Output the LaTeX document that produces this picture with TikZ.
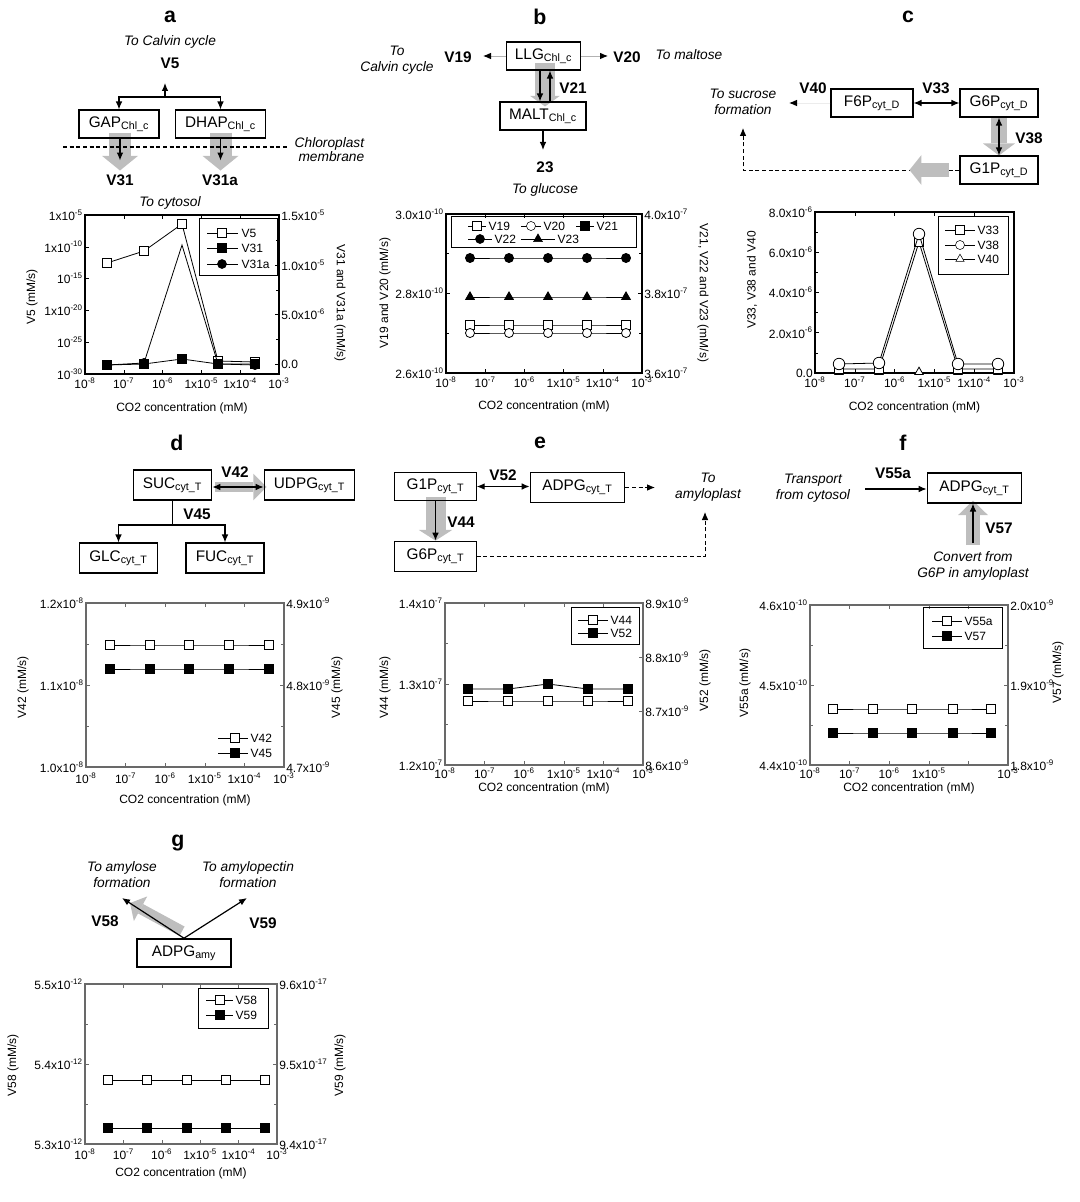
\documentclass[tikz,border=0pt]{standalone}
\usepackage{fontspec}
\setmainfont{Liberation Sans}
\usepackage{tikz}
\usetikzlibrary{arrows.meta, calc, plotmarks, backgrounds}
\definecolor{arrowGrey}{RGB}{190, 190, 190}
\definecolor{axisGrey}{RGB}{105, 105, 105}
\newcommand{\tenp}[1]{10\textsuperscript{#1}}
\newcommand{\xten}[2]{#1x10\textsuperscript{#2}}
\newcommand{\lCOtwo}{CO2 concentration (mM)}
\newcommand{\lChl}{\textsubscript{Chl\_c}}
\newcommand{\lCytD}{\textsubscript{cyt\_D}}
\newcommand{\lCytT}{\textsubscript{cyt\_T}}

\begin{document}
\begin{tikzpicture} [
        x=0.75pt, y=-0.75pt,
        panel/.style={font=\fontsize{16}{18}\selectfont\bfseries},
        pool/.style={draw, line width=0.8pt, minimum height=21pt, inner sep=1pt, font=\fontsize{11.5}{13}\selectfont},
        flux/.style={font=\fontsize{11.5}{13}\selectfont\bfseries},
        note/.style={align=center, font=\fontsize{10.3}{12}\selectfont\itshape},
        tick label/.style={inner sep=1.5pt, font=\fontsize{9}{10}\selectfont},
        axis title/.style={font=\fontsize{9}{10}\selectfont},
        legend text/.style={anchor=west, inner sep=1pt, font=\fontsize{9}{10}\selectfont},
        flow/.style={line width=0.9pt, -{Latex[length=6pt, width=5pt]}},
        flow2/.style={line width=0.9pt, {Latex[length=6pt, width=5pt]}-{Latex[length=6pt, width=5pt]}},
        dashed flow/.style={flow, line width=0.7pt, dash pattern=on 3pt off 2pt},
        faint/.style={draw=gray!60, line width=0.7pt, -{Latex[length=6pt, width=5pt, black]}},
        big arrow/.style n args={3}{draw=arrowGrey, line width=#1, -{Triangle[length=#2, width=#3, line width=0pt]}},
        plot frame/.style={line width=0.8pt},
        series/.style={line width=0.6pt},
        opensq/.style={mark=square*, mark size=3.2pt, mark options={fill=white}},
        fullsq/.style={mark=square*, mark size=3.2pt, mark options={fill=black}},
        opendot/.style={mark=*, mark size=3.4pt, mark options={fill=white}},
        fulldot/.style={mark=*, mark size=3.4pt, mark options={fill=black}},
        opentri/.style={mark=triangle*, mark size=3.6pt, mark options={fill=white}},
        fulltri/.style={mark=triangle*, mark size=3.8pt, mark options={fill=black}}
    ]
    \useasboundingbox (0,0) rectangle (1080,1202);

    % a
    \node[panel] (title a) at (170,17) {a};
    \node[note] (calvin a) at (170,42) {To Calvin cycle};
    \node[flux] (v5) at (170,63) {V5};
    \node[pool, minimum width=60pt] (gap) at (119,124) {GAP\lChl};
    \node[pool, minimum width=67pt] (dhap) at (220.5,124) {DHAP\lChl};
    \coordinate (split a) at (165,97);
    \coordinate (v5 tip) at (165,83);
    \draw[flow] (split a) -- (v5 tip);
    \draw[flow] (split a) -| (gap.north);
    \draw[flow] (split a) -| (dhap.north);
    \draw[line width=0.8pt, dash pattern=on 3pt off 2pt] (63,147) -- (289,147);
    \node[note, anchor=west, align=right, font=\fontsize{10.3}{9}\selectfont\itshape] (membrane) at (290,150) {Chloroplast\\membrane};
    \draw[flow] ($(gap.south)+(1,0)$) -- ++(0,22);
    \draw[flow] (dhap.south) -- ++(0,22);
    \node[flux] (v31) at (120,180) {V31};
    \node[flux] (v31a) at (220,180) {V31a};
    \node[note] (cytosol) at (170,203) {To cytosol};

    % b
    \node[panel] (title b) at (540,17) {b};
    \node[pool, minimum width=56pt] (llg) at (543.5,56) {LLG\lChl};
    \node[pool, minimum width=64.5pt] (malt) at (543,116) {MALT\lChl};
    \node[flux] (v19) at (458,57) {V19};
    \node[flux] (v20) at (627,57) {V20};
    \node[note] (calvin b) at (397,60) {To\\Calvin cycle};
    \node[note] (maltose) at (689,55) {To maltose};
    \coordinate (v19 tip) at (483,56);
    \coordinate (v20 tip) at (608,56);
    \draw[faint] (llg.west) -- (v19 tip);
    \draw[faint] (llg.east) -- (v20 tip);
    \draw[flow] ($(llg.south)+(-3.5,0)$) -- ($(malt.north)+(-3,0)$);
    \draw[flow] ($(malt.north)+(7,0)$) -- ($(llg.south)+(6.5,0)$);
    \node[flux] (v21) at (573,88) {V21};
    \coordinate (glucose tip) at (543,150);
    \draw[flow] (malt.south) -- (glucose tip);
    \node[flux] (v23) at (545,167) {23};
    \node[note] (glucose) at (545,190) {To glucose};

    % c
    \node[panel] (title c) at (908,17) {c};
    \node[pool, minimum width=61.5pt] (f6p) at (872,103) {F6P\lCytD};
    \node[pool, minimum width=58.5pt] (g6p c) at (999,103) {G6P\lCytD};
    \node[pool, minimum width=58.5pt] (g1p c) at (999,170) {G1P\lCytD};
    \node[flux] (v33) at (936,88) {V33};
    \node[flux] (v40) at (813,88) {V40};
    \node[flux] (v38) at (1029,138) {V38};
    \node[note] (sucrose) at (743,102) {To sucrose\\formation};
    \coordinate (v40 tip) at (789,103);
    \coordinate (sucrose tip) at (743,128);
    \draw[flow2] (f6p) -- (g6p c);
    \draw[faint, draw=gray!15] (f6p.west) -- (v40 tip);
    \draw[flow2] (g6p c.south) -- (g1p c.north);
    \draw[dashed flow] (g1p c.west) -| (sucrose tip);
    \draw[big arrow={10.5pt}{9pt}{22.5pt}] ($(g1p c.west)+(-10,0)$) -- ($(g1p c.west)+(-50,0)$);

    % d
    \node[panel] (title d) at (177,443) {d};
    \node[pool, minimum width=59pt, minimum height=22.5pt] (suc) at (172.5,485) {SUC\lCytT};
    \node[pool, minimum width=68pt, minimum height=22.5pt] (udpg) at (309.5,485) {UDPG\lCytT};
    \node[pool, minimum width=59pt, minimum height=22.5pt] (glc) at (118.5,558) {GLC\lCytT};
    \node[pool, minimum width=58.5pt, minimum height=22.5pt] (fuc) at (225,558) {FUC\lCytT};
    \node[flux] (v42) at (235,472) {V42};
    \node[flux] (v45) at (197,514) {V45};
    \coordinate (split d) at (172.5,525);
    \draw[flow2] ($(suc.east)+(0,2)$) -- ($(udpg.west)+(0,2)$);
    \draw[line width=0.9pt] (suc.south) -- (split d);
    \draw[flow] (split d) -| (glc.north);
    \draw[flow] (split d) -| (fuc.north);

    % e
    \node[panel] (title e) at (540,443) {e};
    \node[pool, minimum width=61pt] (g1p e) at (435.5,486.5) {G1P\lCytT};
    \node[pool, minimum width=71pt, minimum height=23pt] (adpg e) at (577.5,487.5) {ADPG\lCytT};
    \node[pool, minimum width=61pt, minimum height=23pt] (g6p e) at (435.5,556.5) {G6P\lCytT};
    \node[flux] (v52) at (503,475) {V52};
    \node[flux] (v44) at (461,522) {V44};
    \node[note] (amyloplast) at (708,487) {To\\amyloplast};
    \coordinate (amy east) at (655,487.5);
    \coordinate (amy tip) at (705,512);
    \draw[flow2] (g1p e.east) -- (g1p e.east -| adpg e.west);
    \draw[dashed flow] (adpg e.east) -- (amy east);
    \draw[flow] (g1p e.south) -- (g6p e.north);
    \draw[dashed flow] (g6p e.east) -| (amy tip);

    % f
    \node[panel] (title f) at (903,443) {f};
    \node[pool, minimum width=71pt, minimum height=22.5pt] (adpg f) at (974.5,488) {ADPG\lCytT};
    \node[flux] (v55a) at (893,473) {V55a};
    \node[flux] (v57) at (999,528) {V57};
    \node[note] (transport) at (813,488) {Transport\\from cytosol};
    \node[note] (convert) at (973,566) {Convert from\\G6P in amyloplast};
    \coordinate (transport end) at (865,489);
    \coordinate (convert end) at (973,543);
    \draw[flow] (transport end) -- (transport end -| adpg f.west);
    \draw[flow] (convert end) -- (convert end |- adpg f.south);

    % g
    \node[panel] (title g) at (178,843) {g};
    \node[pool, minimum width=70.5pt, line width=1.2pt] (adpg g) at (184,953) {ADPG\textsubscript{amy}};
    \node[flux] (v58) at (105,921) {V58};
    \node[flux] (v59) at (263,923) {V59};
    \node[note] (amylose) at (122,875) {To amylose\\formation};
    \node[note] (amylopectin) at (248,875) {To amylopectin\\formation};
    \coordinate (amylose tip) at (122,898);
    \coordinate (amylopectin tip) at (247,898);
    \coordinate (amylose grey tip) at (130,903);
    \draw[flow] (adpg g.north) -- (amylose tip);
    \draw[flow] (adpg g.north) -- (amylopectin tip);

    % grey flux arrows
    \begin{scope}[on background layer]
        \draw[big arrow={16.5pt}{11pt}{27pt}] ($(gap.south)+(1,-6)$) -- ($(gap.south)+(1,32)$);
        \draw[big arrow={16.5pt}{11pt}{27pt}] ($(dhap.south)+(0,-6)$) -- ($(dhap.south)+(0,32)$);
        \draw[big arrow={15pt}{8pt}{22.5pt}] ($(llg.south)+(1.5,-8)$) -- ($(malt.north)+(2,5)$);
        \draw[big arrow={12.5pt}{9pt}{24pt}] ($(g6p c.south)+(0,-2)$) -- (g1p c.north);
        \draw[big arrow={8pt}{10pt}{20pt}] ($(suc.east)+(3,2)$) -- ($(udpg.west)+(3,2)$);
        \draw[big arrow={15pt}{8pt}{25pt}] ($(g1p e.south)+(0,-4)$) -- (g6p e.north);
        \draw[big arrow={11pt}{11pt}{22.5pt}] ($(convert end)+(0,2)$) -- ($(adpg f.south)+(-1.5,-3)$);
        \draw[big arrow={8pt}{9pt}{21pt}] ($(adpg g.north)+(-2,-7)$) -- (amylose grey tip);
    \end{scope}

    % plot frames and CO2 axes
    \foreach \n/\pl/\pt/\pr/\pb/\fc/\xo/\xt/\sk in {a/85/215/279/374/black/2/408/9, b/446/214/642/373/black/2/406/9, c/815/212/1014/373/black/2/407/9, d/86/603/284/767/axisGrey/4/800/9, e/445/603/643/765/axisGrey/1/788/9, f/810/605/1008/765/axisGrey/1/788/4, g/85/984/277/1144/axisGrey/3/1173/9} {
        \draw[plot frame, draw=\fc] (\pl,\pt) rectangle (\pr,\pb);
        \foreach \i/\t in {0/{\tenp{-8}}, 1/{\tenp{-7}}, 2/{\tenp{-6}}, 3/{\xten{1}{-5}}, 4/{\xten{1}{-4}}, 5/{\tenp{-3}}} {
            \draw[draw=\fc] ({\pl+\i*(\pr-\pl)/5},\pb) -- ++(0,-4);
            \draw[draw=\fc] ({\pl+\i*(\pr-\pl)/5},\pt) -- ++(0,4);
            \ifnum\i=\sk\relax\else
                \node[tick label, anchor=north] (xt-\n-\i) at ({\pl+\i*(\pr-\pl)/5},{\pb+\xo}) {\t};
            \fi
        }
        \node[axis title] (xtitle-\n) at ({(\pl+\pr)/2},\xt) {\lCOtwo};
    }

    % plot a
    \foreach \y/\t [count=\k] in {215/{\xten{1}{-5}}, 246.8/{\xten{1}{-10}}, 278.6/{\tenp{-15}}, 310.4/{\xten{1}{-20}}, 342.2/{\tenp{-25}}, 374/{\tenp{-30}}}
        {\draw (85,\y) -- ++(4,0); \node[tick label, anchor=east] (yl-a-\k) at (85,\y) {\t};}
    \foreach \y/\t [count=\k] in {364/0.0, 314.5/{\xten{5.0}{-6}}, 265/{\xten{1.0}{-5}}, 215.5/{\xten{1.5}{-5}}}
        {\draw (279,\y) -- ++(-4,0); \node[tick label, anchor=west] (yr-a-\k) at (279,\y) {\t};}
    \foreach \y in {339.25, 290, 240.5} \draw (279,\y) -- ++(-3,0);
    \node[axis title, rotate=90] (ytitle-a) at (32,297) {V5 (mM/s)};
    \node[axis title, rotate=-90] (ytitle2-a) at (340,303) {V31 and V31a (mM/s)};
    \draw[series, opensq] plot coordinates {(107,263) (144,251) (182,224) (218,361) (255,362)};
    \draw[series, fullsq] plot coordinates {(107,365) (144,364) (182,359) (218,364) (255,364)};
    \draw[series, fulldot, mark indices={1,2,4,5}] plot coordinates {(107,365) (144,363) (182,245) (218,364) (255,365)};
    \draw (199,218) rectangle (277,275);
    \foreach \y/\m/\t in {233/opensq/V5, 248/fullsq/V31, 264/fulldot/V31a} {
        \draw[series] (207,\y) -- (238,\y);
        \draw[\m] plot coordinates {(222,\y)};
        \node[legend text] (leg-\t) at (240,\y) {\t};
    }

    % plot b
    \foreach \y/\t [count=\k] in {214/{\xten{3.0}{-10}}, 293.5/{\xten{2.8}{-10}}, 373/{\xten{2.6}{-10}}}
        {\draw (446,\y) -- ++(4,0); \node[tick label, anchor=east] (yl-b-\k) at (446,\y) {\t};}
    \foreach \y/\t [count=\k] in {214/{\xten{4.0}{-7}}, 293.5/{\xten{3.8}{-7}}, 373/{\xten{3.6}{-7}}}
        {\draw (642,\y) -- ++(-4,0); \node[tick label, anchor=west] (yr-b-\k) at (642,\y) {\t};}
    \foreach \y in {253.75, 333.25} {\draw (446,\y) -- ++(3,0); \draw (642,\y) -- ++(-3,0);}
    \node[axis title, rotate=90] (ytitle-b) at (385,293) {V19 and V20 (mM/s)};
    \node[axis title, rotate=-90] (ytitle2-b) at (703,293) {V21, V22 and V23 (mM/s)};
    \draw[series, fulldot] plot coordinates {(470,258) (509,258) (548,258) (587,258) (626,258)};
    \draw[series, fulltri] plot coordinates {(470,297) (509,297) (548,297) (587,297) (626,297)};
    \draw[series, opensq] plot coordinates {(470,325) (509,325) (548,325) (587,325) (626,325)};
    \draw[series, opendot] plot coordinates {(470,333) (509,333) (548,333) (587,333) (626,333)};
    \draw (451,216) rectangle (636,247);
    \foreach \x/\y/\w/\m/\t in {477/226/9/opensq/V19, 531/226/10/opendot/V20, 585/226/9/fullsq/V21, 480/239/12/fulldot/V22, 538/239/17/fulltri/V23} {
        \draw[series] ({\x-\w},\y) -- ({\x+\w},\y);
        \draw[\m] plot coordinates {(\x,\y)};
        \node[legend text] (leg-\t) at ({\x+\w+1},\y) {\t};
    }

    % plot c
    \foreach \y/\t [count=\k] in {373/0.0, 332.75/{\xten{2.0}{-6}}, 292.5/{\xten{4.0}{-6}}, 252.25/{\xten{6.0}{-6}}, 212/{\xten{8.0}{-6}}}
        {\draw (815,\y) -- ++(4,0); \node[tick label, anchor=east] (yl-c-\k) at (815,\y) {\t};}
    \foreach \y in {352.9, 312.6, 272.4, 232.1} \draw (815,\y) -- ++(3,0);
    \node[axis title, rotate=90] (ytitle-c) at (752,280) {V33, V38 and V40};
    \draw[series, opentri] plot coordinates {(839,372) (879,372) (919,372) (958,372) (998,372)};
    \draw[series, opensq] plot coordinates {(839,369) (879,369) (919,242) (958,369) (998,369)};
    \draw[series, opendot, mark size=4.3pt] plot coordinates {(839,364) (879,363) (919,234) (958,364) (998,364)};
    \draw (938,216) rectangle (1008,274);
    \foreach \y/\m/\t in {230/opensq/V33, 245/opendot/V38, 259/opentri/V40} {
        \draw[series] (945,\y) -- (975,\y);
        \draw[\m] plot coordinates {(960,\y)};
        \node[legend text] (leg-\t) at (976,\y) {\t};
    }

    % plot d
    \foreach \y/\t [count=\k] in {603/{\xten{1.2}{-8}}, 685/{\xten{1.1}{-8}}, 767/{\xten{1.0}{-8}}}
        {\draw[axisGrey] (86,\y) -- ++(4,0); \node[tick label, anchor=east] (yl-d-\k) at (86,\y) {\t};}
    \foreach \y/\t [count=\k] in {603/{\xten{4.9}{-9}}, 685/{\xten{4.8}{-9}}, 767/{\xten{4.7}{-9}}}
        {\draw[axisGrey] (284,\y) -- ++(-4,0); \node[tick label, anchor=west] (yr-d-\k) at (284,\y) {\t};}
    \foreach \y in {644, 726} {\draw[axisGrey] (86,\y) -- ++(3,0); \draw[axisGrey] (284,\y) -- ++(-3,0);}
    \node[axis title, rotate=90] (ytitle-d) at (23,687) {V42 (mM/s)};
    \node[axis title, rotate=90] (ytitle2-d) at (337,687) {V45 (mM/s)};
    \draw[series, opensq] plot coordinates {(110,645) (150,645) (189,645) (229,645) (269,645)};
    \draw[series, fullsq] plot coordinates {(110,669) (150,669) (189,669) (229,669) (269,669)};
    \foreach \y/\m/\t in {738/opensq/V42, 753/fullsq/V45} {
        \draw[series] (218,\y) -- (248,\y);
        \draw[\m] plot coordinates {(235,\y)};
        \node[legend text] (leg-\t) at (249,\y) {\t};
    }

    % plot e
    \foreach \y/\t [count=\k] in {603/{\xten{1.4}{-7}}, 684/{\xten{1.3}{-7}}, 765/{\xten{1.2}{-7}}}
        {\draw[axisGrey] (445,\y) -- ++(4,0); \node[tick label, anchor=east] (yl-e-\k) at (445,\y) {\t};}
    \foreach \y/\t [count=\k] in {603/{\xten{8.9}{-9}}, 657/{\xten{8.8}{-9}}, 711/{\xten{8.7}{-9}}, 765/{\xten{8.6}{-9}}}
        {\draw[axisGrey] (643,\y) -- ++(-4,0); \node[tick label, anchor=west] (yr-e-\k) at (643,\y) {\t};}
    \foreach \y in {643.5, 724.5} \draw[axisGrey] (445,\y) -- ++(3,0);
    \node[axis title, rotate=90] (ytitle-e) at (385,687) {V44 (mM/s)};
    \node[axis title, rotate=90] (ytitle2-e) at (705,680) {V52 (mM/s)};
    \draw[series, fullsq] plot coordinates {(468,689) (508,689) (548,684) (588,689) (628,689)};
    \draw[series, opensq] plot coordinates {(468,701) (508,701) (548,701) (588,701) (628,701)};
    \draw (571,607) rectangle (639,644);
    \foreach \y/\m/\t in {620/opensq/V44, 633/fullsq/V52} {
        \draw[series] (578,\y) -- (608,\y);
        \draw[\m] plot coordinates {(593,\y)};
        \node[legend text] (leg-\t) at (609,\y) {\t};
    }

    % plot f
    \foreach \y/\t [count=\k] in {605/{\xten{4.6}{-10}}, 685/{\xten{4.5}{-10}}, 765/{\xten{4.4}{-10}}}
        {\draw[axisGrey] (810,\y) -- ++(4,0); \node[tick label, anchor=east] (yl-f-\k) at (810,\y) {\t};}
    \foreach \y/\t [count=\k] in {605/{\xten{2.0}{-9}}, 685/{\xten{1.9}{-9}}, 765/{\xten{1.8}{-9}}}
        {\draw[axisGrey] (1008,\y) -- ++(-4,0); \node[tick label, anchor=west] (yr-f-\k) at (1008,\y) {\t};}
    \foreach \y in {645, 725} {\draw[axisGrey] (810,\y) -- ++(3,0); \draw[axisGrey] (1008,\y) -- ++(-3,0);}
    \node[axis title, rotate=90] (ytitle-f) at (745,683) {V55a (mM/s)};
    \node[axis title, rotate=90] (ytitle2-f) at (1058,672) {V57 (mM/s)};
    \draw[series, opensq] plot coordinates {(833,709) (873,709) (912,709) (953,709) (991,709)};
    \draw[series, fullsq] plot coordinates {(833,733) (873,733) (912,733) (953,733) (991,733)};
    \draw (923,607) rectangle (1002,648);
    \foreach \y/\m/\t in {621/opensq/V55a, 636/fullsq/V57} {
        \draw[series] (932,\y) -- (962,\y);
        \draw[\m] plot coordinates {(947,\y)};
        \node[legend text] (leg-\t) at (963,\y) {\t};
    }

    % plot g
    \foreach \y/\t [count=\k] in {984/{\xten{5.5}{-12}}, 1064/{\xten{5.4}{-12}}, 1144/{\xten{5.3}{-12}}}
        {\draw[axisGrey] (85,\y) -- ++(4,0); \node[tick label, anchor=east] (yl-g-\k) at (85,\y) {\t};}
    \foreach \y/\t [count=\k] in {984/{\xten{9.6}{-17}}, 1064/{\xten{9.5}{-17}}, 1144/{\xten{9.4}{-17}}}
        {\draw[axisGrey] (277,\y) -- ++(-4,0); \node[tick label, anchor=west] (yr-g-\k) at (277,\y) {\t};}
    \foreach \y in {1024, 1104} {\draw[axisGrey] (85,\y) -- ++(3,0); \draw[axisGrey] (277,\y) -- ++(-3,0);}
    \node[axis title, rotate=90] (ytitle-g) at (13,1065) {V58 (mM/s)};
    \node[axis title, rotate=90] (ytitle2-g) at (340,1065) {V59 (mM/s)};
    \draw[series, opensq] plot coordinates {(108,1080) (147,1080) (187,1080) (226,1080) (265,1080)};
    \draw[series, fullsq] plot coordinates {(108,1128) (147,1128) (187,1128) (226,1128) (265,1128)};
    \draw (198,988) rectangle (268,1028);
    \foreach \y/\m/\t in {1000/opensq/V58, 1015/fullsq/V59} {
        \draw[series] (206,\y) -- (233,\y);
        \draw[\m] plot coordinates {(220,\y)};
        \node[legend text] (leg-\t) at (234,\y) {\t};
    }

\end{tikzpicture}
\end{document}
